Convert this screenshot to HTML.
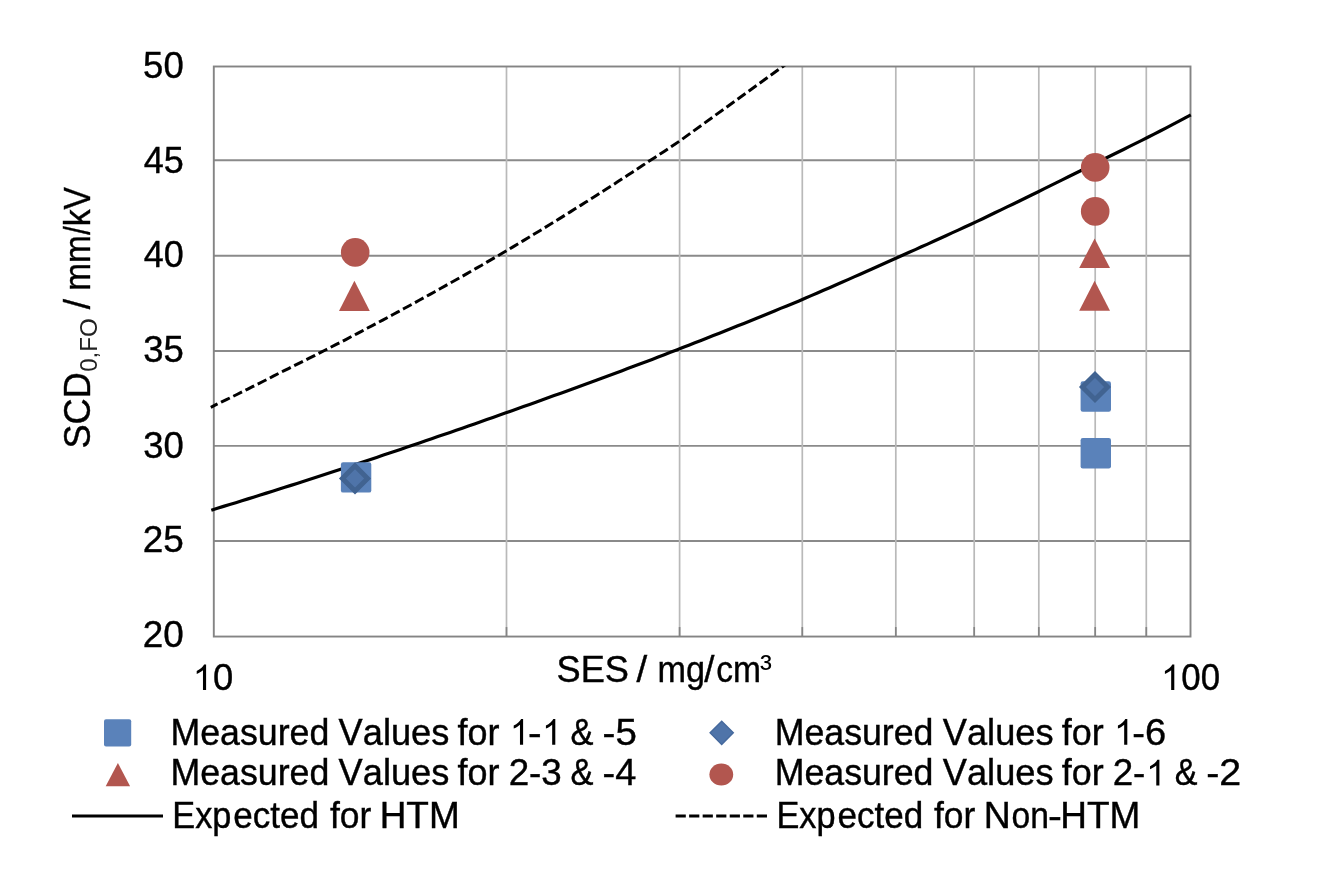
<!DOCTYPE html>
<html><head><meta charset="utf-8"><title>chart</title>
<style>html,body{margin:0;padding:0;background:#fff;}svg{display:block;filter:blur(0.45px)}text{font-family:"Liberation Sans",sans-serif;fill:#000;font-kerning:none;font-variant-ligatures:none;stroke:#000;stroke-width:0.4px}</style></head><body>
<svg width="1320" height="880" viewBox="0 0 1320 880">
<rect width="1320" height="880" fill="#fff"/>
<line x1="213.8" x2="1190.5" y1="160.2" y2="160.2" stroke="#8a8a8a" stroke-width="1.9"/>
<line x1="213.8" x2="1190.5" y1="255.7" y2="255.7" stroke="#8a8a8a" stroke-width="1.9"/>
<line x1="213.8" x2="1190.5" y1="351.0" y2="351.0" stroke="#8a8a8a" stroke-width="1.9"/>
<line x1="213.8" x2="1190.5" y1="445.85" y2="445.85" stroke="#8a8a8a" stroke-width="1.9"/>
<line x1="213.8" x2="1190.5" y1="541.0" y2="541.0" stroke="#8a8a8a" stroke-width="1.9"/>
<line x1="506.5" x2="506.5" y1="66.5" y2="636.55" stroke="#b9b9b9" stroke-width="1.7"/>
<line x1="506.5" x2="506.5" y1="627.05" y2="636.55" stroke="#848484" stroke-width="1.7"/>
<line x1="679.6" x2="679.6" y1="66.5" y2="636.55" stroke="#b9b9b9" stroke-width="1.7"/>
<line x1="679.6" x2="679.6" y1="627.05" y2="636.55" stroke="#848484" stroke-width="1.7"/>
<line x1="802.3" x2="802.3" y1="66.5" y2="636.55" stroke="#b9b9b9" stroke-width="1.7"/>
<line x1="802.3" x2="802.3" y1="627.05" y2="636.55" stroke="#848484" stroke-width="1.7"/>
<line x1="895.8" x2="895.8" y1="66.5" y2="636.55" stroke="#b9b9b9" stroke-width="1.7"/>
<line x1="895.8" x2="895.8" y1="627.05" y2="636.55" stroke="#848484" stroke-width="1.7"/>
<line x1="974.2" x2="974.2" y1="66.5" y2="636.55" stroke="#b9b9b9" stroke-width="1.7"/>
<line x1="974.2" x2="974.2" y1="627.05" y2="636.55" stroke="#848484" stroke-width="1.7"/>
<line x1="1038.8" x2="1038.8" y1="66.5" y2="636.55" stroke="#b9b9b9" stroke-width="1.7"/>
<line x1="1038.8" x2="1038.8" y1="627.05" y2="636.55" stroke="#848484" stroke-width="1.7"/>
<line x1="1095.2" x2="1095.2" y1="66.5" y2="636.55" stroke="#b9b9b9" stroke-width="1.7"/>
<line x1="1095.2" x2="1095.2" y1="627.05" y2="636.55" stroke="#848484" stroke-width="1.7"/>
<line x1="1146.3" x2="1146.3" y1="66.5" y2="636.55" stroke="#b9b9b9" stroke-width="1.7"/>
<line x1="1146.3" x2="1146.3" y1="627.05" y2="636.55" stroke="#848484" stroke-width="1.7"/>
<rect x="213.8" y="66.5" width="976.7" height="570.05" fill="none" stroke="#848484" stroke-width="1.9"/>
<clipPath id="cp"><rect x="209.8" y="66.2" width="984.7" height="570.05"/></clipPath>
<path d="M210.8,407.3 L216.0,404.7 L221.2,402.2 L226.4,399.7 L231.6,397.1 L236.9,394.5 L242.1,391.9 L247.3,389.3 L252.5,386.7 L257.7,384.1 L262.9,381.5 L268.1,378.9 L273.3,376.2 L278.5,373.5 L283.7,370.9 L289.0,368.3 L294.2,365.7 L299.4,363.1 L304.6,360.5 L309.8,357.9 L315.0,355.3 L320.2,352.6 L325.4,350.0 L330.6,347.3 L335.8,344.6 L341.1,342.0 L346.3,339.3 L351.5,336.5 L356.7,333.8 L361.9,331.1 L367.1,328.3 L372.3,325.6 L377.5,322.8 L382.7,320.1 L387.9,317.3 L393.1,314.5 L398.4,311.7 L403.6,308.8 L408.8,306.0 L414.0,303.2 L419.2,300.3 L424.4,297.4 L429.6,294.6 L434.8,291.7 L440.0,288.8 L445.2,285.9 L450.5,282.9 L455.7,280.0 L460.9,277.1 L466.1,274.1 L471.3,271.1 L476.5,268.1 L481.7,265.2 L486.9,262.1 L492.1,259.1 L497.4,256.1 L502.6,253.0 L507.8,250.0 L513.0,246.9 L518.2,243.8 L523.4,240.6 L528.6,237.5 L533.8,234.3 L539.0,231.2 L544.2,228.0 L549.5,224.8 L554.7,221.6 L559.9,218.4 L565.1,215.1 L570.3,211.9 L575.5,208.6 L580.7,205.4 L585.9,202.1 L591.1,198.8 L596.3,195.5 L601.5,192.1 L606.8,188.8 L612.0,185.5 L617.2,182.1 L622.4,178.7 L627.6,175.3 L632.8,171.9 L638.0,168.5 L643.2,165.1 L648.4,161.6 L653.7,158.2 L658.9,154.8 L664.1,151.4 L669.3,147.9 L674.5,144.5 L679.7,141.0 L782.8,66.5 L802.3,52.3" fill="none" stroke="#000" stroke-width="3.0" stroke-dasharray="9.72 3.91" stroke-dashoffset="2.2" clip-path="url(#cp)"/>
<path d="M211.3,510.2 L217.4,508.3 L223.5,506.4 L229.7,504.5 L235.8,502.7 L241.9,500.8 L248.0,498.9 L254.2,497.0 L260.3,495.0 L266.4,493.1 L272.5,491.2 L278.6,489.2 L284.8,487.3 L290.9,485.4 L297.0,483.4 L303.1,481.4 L309.2,479.5 L315.4,477.5 L321.5,475.5 L327.6,473.5 L333.7,471.5 L339.9,469.5 L346.0,467.5 L352.1,465.5 L358.2,463.5 L364.3,461.5 L370.5,459.4 L376.6,457.4 L382.7,455.3 L388.8,453.3 L395.0,451.2 L401.1,449.2 L407.2,447.1 L413.3,445.0 L419.4,442.9 L425.6,440.8 L431.7,438.7 L437.8,436.6 L443.9,434.5 L450.1,432.4 L456.2,430.3 L462.3,428.2 L468.4,426.0 L474.5,423.9 L480.7,421.8 L486.8,419.6 L492.9,417.4 L499.0,415.3 L505.2,413.1 L511.3,410.9 L517.4,408.8 L523.5,406.6 L529.6,404.4 L535.8,402.2 L541.9,400.0 L548.0,397.8 L554.1,395.6 L560.2,393.4 L566.4,391.2 L572.5,389.0 L578.6,386.7 L584.7,384.5 L590.9,382.3 L597.0,380.0 L603.1,377.7 L609.2,375.5 L615.3,373.2 L621.5,370.9 L627.6,368.6 L633.7,366.3 L639.8,364.0 L646.0,361.7 L652.1,359.4 L658.2,357.0 L664.3,354.7 L670.4,352.3 L676.6,350.0 L682.7,347.6 L688.8,345.2 L694.9,342.8 L701.0,340.4 L707.2,338.0 L713.3,335.6 L719.4,333.2 L725.5,330.7 L731.7,328.3 L737.8,325.8 L743.9,323.4 L750.0,320.9 L756.1,318.4 L762.3,316.0 L768.4,313.5 L774.5,311.0 L780.6,308.4 L786.8,305.9 L792.9,303.4 L799.0,300.9 L805.1,298.3 L811.2,295.6 L817.4,293.0 L823.5,290.3 L829.6,287.7 L835.7,285.0 L841.9,282.3 L848.0,279.6 L854.1,276.9 L860.2,274.2 L866.3,271.5 L872.5,268.8 L878.6,266.0 L884.7,263.3 L890.8,260.5 L897.0,257.7 L903.1,255.0 L909.2,252.3 L915.3,249.6 L921.4,246.8 L927.6,244.1 L933.7,241.3 L939.8,238.5 L945.9,235.7 L952.0,232.9 L958.2,230.1 L964.3,227.3 L970.4,224.5 L976.5,221.6 L982.7,218.7 L988.8,215.8 L994.9,212.8 L1001.0,209.9 L1007.1,206.9 L1013.3,204.0 L1019.4,201.0 L1025.5,198.0 L1031.6,195.0 L1037.8,192.0 L1043.9,188.9 L1050.0,185.9 L1056.1,182.9 L1062.2,179.9 L1068.4,176.8 L1074.5,173.8 L1080.6,170.7 L1086.7,167.6 L1092.8,164.5 L1099.0,161.5 L1105.1,158.5 L1111.2,155.5 L1117.3,152.5 L1123.5,149.5 L1129.6,146.4 L1135.7,143.4 L1141.8,140.4 L1147.9,137.3 L1154.1,134.1 L1160.2,131.0 L1166.3,127.8 L1172.4,124.6 L1178.6,121.4 L1184.7,118.1 L1190.8,114.9" fill="none" stroke="#000" stroke-width="3.2"/>
<rect x="340.90" y="462.20" width="30.4" height="30.4" rx="2.2" fill="#5A82BA"/>
<rect x="1080.60" y="381.30" width="30.4" height="30.4" rx="2.2" fill="#5A82BA"/>
<rect x="1080.60" y="438.10" width="30.4" height="30.4" rx="2.2" fill="#5A82BA"/>
<path d="M355.0,465.79999999999995 L367.6,478.4 L355.0,491.0 L342.4,478.4 Z" fill="#4F74A9" stroke="#416391" stroke-width="4.9" stroke-linejoin="miter"/>
<path d="M1095.0,374.4 L1107.6,387.0 L1095.0,399.6 L1082.4,387.0 Z" fill="#4F74A9" stroke="#416391" stroke-width="4.9" stroke-linejoin="miter"/>
<path d="M354.4,280.8 L369.79999999999995,310.9 L339.0,310.9 Z" fill="#B2564F"/>
<path d="M1094.6,238.4 L1110.0,268.0 L1079.1999999999998,268.0 Z" fill="#B2564F"/>
<path d="M1094.6,280.7 L1110.0,310.7 L1079.1999999999998,310.7 Z" fill="#B2564F"/>
<circle cx="355.2" cy="252.4" r="14.3" fill="#B2564F"/>
<circle cx="1095.2" cy="167.4" r="14.3" fill="#B2564F"/>
<circle cx="1095.2" cy="211.4" r="14.3" fill="#B2564F"/>
<text x="143.14" y="77.6" font-size="36.0" textLength="40.59" lengthAdjust="spacingAndGlyphs">50</text>
<text x="143.77" y="172.8" font-size="36.0" textLength="40.04" lengthAdjust="spacingAndGlyphs">45</text>
<text x="143.78" y="266.8" font-size="36.0" textLength="39.93" lengthAdjust="spacingAndGlyphs">40</text>
<text x="143.21" y="362.0" font-size="36.0" textLength="40.62" lengthAdjust="spacingAndGlyphs">35</text>
<text x="143.21" y="458.2" font-size="36.0" textLength="40.51" lengthAdjust="spacingAndGlyphs">30</text>
<text x="142.74" y="552.2" font-size="36.0" textLength="41.11" lengthAdjust="spacingAndGlyphs">25</text>
<text x="142.75" y="647.4" font-size="36.0" textLength="40.99" lengthAdjust="spacingAndGlyphs">20</text>
<path transform="translate(192.84,690.1) scale(0.01738,-0.01738)" d="M763 0H583V1147Q518 1085 412.5 1023T223 930V1104Q374 1175 487 1276T647 1472H763Z" fill="#000"/>
<text x="213.08" y="690.1" font-size="36.0" textLength="20.24" lengthAdjust="spacingAndGlyphs">0</text>
<path transform="translate(1161.04,690.1) scale(0.01738,-0.01738)" d="M763 0H583V1147Q518 1085 412.5 1023T223 930V1104Q374 1175 487 1276T647 1472H763Z" fill="#000"/>
<text x="1181.34" y="690.1" font-size="36.0" textLength="38.72" lengthAdjust="spacingAndGlyphs">00</text>
<text x="556.56" y="681.7" font-size="36.0" textLength="72.40" lengthAdjust="spacingAndGlyphs">SES</text>
<text x="636.40" y="681.7" font-size="36.0" textLength="10.70" lengthAdjust="spacingAndGlyphs">/</text>
<text x="657.43" y="681.7" font-size="36.0" textLength="47.47" lengthAdjust="spacingAndGlyphs">mg</text>
<text x="704.30" y="681.7" font-size="36.0" textLength="10.20" lengthAdjust="spacingAndGlyphs">/</text>
<text x="716.27" y="681.7" font-size="36.0" textLength="44.74" lengthAdjust="spacingAndGlyphs">cm</text>
<text x="760.03" y="680.3" font-size="36.0" textLength="11.87" lengthAdjust="spacingAndGlyphs" style="stroke:none">³</text>
<text transform="translate(90.0,0) rotate(-90)" x="-448.54" y="0" font-size="36.0" textLength="76.27" lengthAdjust="spacingAndGlyphs">SCD</text>
<text transform="translate(96.8,0) rotate(-90)" x="-371.84" y="0" font-size="24.6" textLength="53.70" lengthAdjust="spacingAndGlyphs" style="stroke:none;fill:#222">0,FO</text>
<text transform="translate(90.0,0) rotate(-90)" x="-309.30" y="0" font-size="36.0" textLength="10.30" lengthAdjust="spacingAndGlyphs">/</text>
<text transform="translate(90.0,0) rotate(-90)" x="-290.81" y="0" font-size="36.0" textLength="55.51" lengthAdjust="spacingAndGlyphs">mm</text>
<text transform="translate(90.0,0) rotate(-90)" x="-234.70" y="0" font-size="36.0" textLength="8.60" lengthAdjust="spacingAndGlyphs">/</text>
<text transform="translate(90.0,0) rotate(-90)" x="-226.27" y="0" font-size="36.0" textLength="39.32" lengthAdjust="spacingAndGlyphs">kV</text>
<rect x="104" y="719.3" width="27.2" height="27.2" rx="2" fill="#5A82BA"/>
<path d="M117.9,763 L130.1,786.3 L105.7,786.3 Z" fill="#B2564F"/>
<line x1="72" x2="163" y1="816" y2="816" stroke="#000" stroke-width="3.2"/>
<path d="M721.7,721.2 L733.3,732.8 L721.7,744.4 L710.1,732.8 Z" fill="#4F74A9" stroke="#45699D" stroke-width="1.4"/>
<ellipse cx="721.3" cy="774.5" rx="11.9" ry="11.1" fill="#B2564F"/>
<line x1="675.6" x2="767" y1="816" y2="816" stroke="#000" stroke-width="3.2" stroke-dasharray="10.2 3.33"/>
<text x="170.47" y="744.7" font-size="36.0" textLength="158.83" lengthAdjust="spacingAndGlyphs">Measured</text>
<text x="338.64" y="744.7" font-size="36.0" textLength="110.67" lengthAdjust="spacingAndGlyphs">Values</text>
<text x="457.49" y="744.7" font-size="36.0" textLength="41.90" lengthAdjust="spacingAndGlyphs">for</text>
<text x="170.47" y="785.4" font-size="36.0" textLength="158.83" lengthAdjust="spacingAndGlyphs">Measured</text>
<text x="338.64" y="785.4" font-size="36.0" textLength="110.67" lengthAdjust="spacingAndGlyphs">Values</text>
<text x="457.49" y="785.4" font-size="36.0" textLength="41.90" lengthAdjust="spacingAndGlyphs">for</text>
<text x="774.67" y="744.7" font-size="36.0" textLength="158.83" lengthAdjust="spacingAndGlyphs">Measured</text>
<text x="942.84" y="744.7" font-size="36.0" textLength="110.67" lengthAdjust="spacingAndGlyphs">Values</text>
<text x="1061.69" y="744.7" font-size="36.0" textLength="41.90" lengthAdjust="spacingAndGlyphs">for</text>
<text x="774.67" y="785.4" font-size="36.0" textLength="158.83" lengthAdjust="spacingAndGlyphs">Measured</text>
<text x="942.84" y="785.4" font-size="36.0" textLength="110.67" lengthAdjust="spacingAndGlyphs">Values</text>
<text x="1061.69" y="785.4" font-size="36.0" textLength="41.90" lengthAdjust="spacingAndGlyphs">for</text>
<path transform="translate(509.84,744.7) scale(0.01738,-0.01738)" d="M763 0H583V1147Q518 1085 412.5 1023T223 930V1104Q374 1175 487 1276T647 1472H763Z" fill="#000"/>
<text x="527.98" y="744.7" font-size="36.0" textLength="13.64" lengthAdjust="spacingAndGlyphs">-</text>
<path transform="translate(542.04,744.7) scale(0.01738,-0.01738)" d="M763 0H583V1147Q518 1085 412.5 1023T223 930V1104Q374 1175 487 1276T647 1472H763Z" fill="#000"/>
<text x="570.59" y="744.7" font-size="36.0" textLength="22.95" lengthAdjust="spacingAndGlyphs">&amp;</text>
<text x="602.59" y="744.7" font-size="36.0" textLength="34.23" lengthAdjust="spacingAndGlyphs">-5</text>
<text x="508.65" y="785.4" font-size="36.0" textLength="53.17" lengthAdjust="spacingAndGlyphs">2-3</text>
<text x="570.59" y="785.4" font-size="36.0" textLength="22.95" lengthAdjust="spacingAndGlyphs">&amp;</text>
<text x="602.62" y="785.4" font-size="36.0" textLength="33.69" lengthAdjust="spacingAndGlyphs">-4</text>
<path transform="translate(1114.04,744.7) scale(0.01738,-0.01738)" d="M763 0H583V1147Q518 1085 412.5 1023T223 930V1104Q374 1175 487 1276T647 1472H763Z" fill="#000"/>
<text x="1132.21" y="744.7" font-size="36.0" textLength="33.87" lengthAdjust="spacingAndGlyphs">-6</text>
<text x="1112.65" y="785.4" font-size="36.0" textLength="32.68" lengthAdjust="spacingAndGlyphs">2-</text>
<path transform="translate(1146.14,785.4) scale(0.01738,-0.01738)" d="M763 0H583V1147Q518 1085 412.5 1023T223 930V1104Q374 1175 487 1276T647 1472H763Z" fill="#000"/>
<text x="1174.80" y="785.4" font-size="36.0" textLength="22.73" lengthAdjust="spacingAndGlyphs">&amp;</text>
<text x="1206.15" y="785.4" font-size="36.0" textLength="35.03" lengthAdjust="spacingAndGlyphs">-2</text>
<text x="172.28" y="828.2" font-size="36.0" textLength="59.16" lengthAdjust="spacingAndGlyphs">Exp</text>
<text x="233.31" y="828.2" font-size="36.0" textLength="85.64" lengthAdjust="spacingAndGlyphs">ected</text>
<text x="776.48" y="828.2" font-size="36.0" textLength="59.16" lengthAdjust="spacingAndGlyphs">Exp</text>
<text x="837.51" y="828.2" font-size="36.0" textLength="85.64" lengthAdjust="spacingAndGlyphs">ected</text>
<text x="329.90" y="828.2" font-size="36.0" textLength="41.29" lengthAdjust="spacingAndGlyphs">for</text>
<text x="379.67" y="828.2" font-size="36.0" textLength="80.06" lengthAdjust="spacingAndGlyphs">HTM</text>
<text x="934.00" y="828.2" font-size="36.0" textLength="41.29" lengthAdjust="spacingAndGlyphs">for</text>
<text x="983.73" y="828.2" font-size="36.0" textLength="27.02" lengthAdjust="spacingAndGlyphs">N</text>
<text x="1011.49" y="828.2" font-size="36.0" textLength="37.40" lengthAdjust="spacingAndGlyphs">on</text>
<text x="1048.04" y="828.2" font-size="36.0" textLength="13.91" lengthAdjust="spacingAndGlyphs">-</text>
<text x="1060.27" y="828.2" font-size="36.0" textLength="80.06" lengthAdjust="spacingAndGlyphs">HTM</text>
</svg></body></html>
